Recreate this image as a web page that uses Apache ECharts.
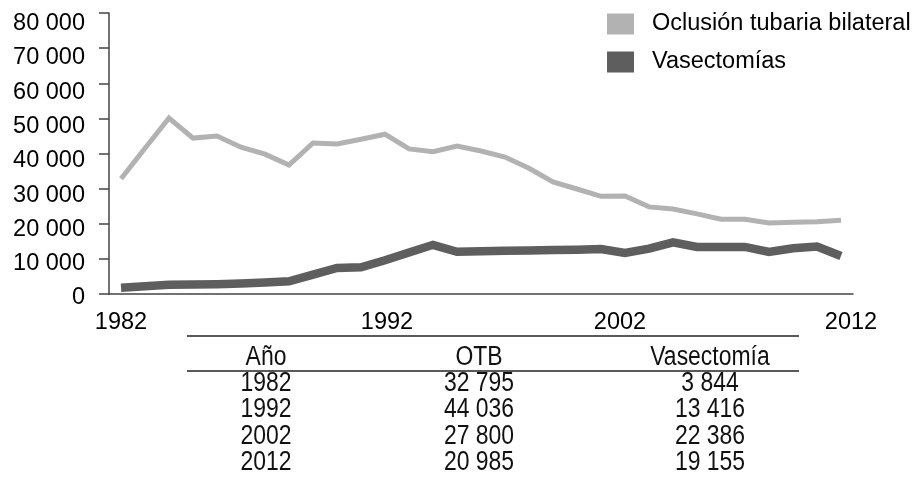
<!DOCTYPE html>
<html>
<head>
<meta charset="utf-8">
<script src="https://cdn.jsdelivr.net/npm/echarts@6/dist/echarts.min.js"></script>
<style>
    html, body { margin: 0; padding: 0; background: #fff; }
    #chart { width: 916px; height: 488px; }
</style>
</head>
<body>
<div id="chart"></div>
<script>
const years = ['1982', '1983', '1984', '1985', '1986', '1987', '1988', '1989', '1990', '1991',
    '1992', '1993', '1994', '1995', '1996', '1997', '1998', '1999', '2000', '2001',
    '2002', '2003', '2004', '2005', '2006', '2007', '2008', '2009', '2010', '2011', '2012'];
const otb = [32795, 41500, 50100, 44400, 45000, 41800, 39800, 36700, 43000, 42700,
    44036, 45500, 41300, 40500, 42100, 40700, 39000, 35800, 31900, 29900,
    27800, 27900, 24800, 24200, 22800, 21300, 21300, 20200, 20400, 20600, 20985];
const vasectomias = [1800, 2200, 2600, 2700, 2800, 3000, 3300, 3600, 5500, 7400,
    7600, 9600, 11800, 14000, 12000, 12200, 12300, 12400, 12500, 12600,
    12800, 11700, 12900, 14700, 13400, 13400, 13400, 12000, 13000, 13500, 10800];
const shownYears = ['1982', '1992', '2002', '2012'];
const seriesNames = ['Oclusión tubaria bilateral', 'Vasectomías'];

const tableHeader = ['Año', 'OTB', 'Vasectomía'];
const tableYears = [1982, 1992, 2002, 2012];
const tableOTB = [32795, 44036, 27800, 20985];
const tableVas = [3844, 13416, 22386, 19155];

(function (echarts) {
    'use strict';

    const font = "'Liberation Sans', Arial, Helvetica, sans-serif";
    const yMax = 80000, yStep = 10000;

    const fmt = function (v) {
        return String(v).replace(/\B(?=(\d{3})+(?!\d))/g, ' ');
    };

    // the source sets its labels a little off the ticks, copy that
    const xShift = {'1982': 0, '1992': 52, '2002': 38, '2012': 20};
    const xRich = {};
    shownYears.forEach(function (y) {
        xRich['y' + y] = {fontSize: 23.5, color: '#000', fontFamily: font, padding: [0, 0, 0, xShift[y]]};
    });
    const yRich = {};
    for (let v = 0; v <= yMax; v += yStep) {
        const off = Math.round(2 * (4 + 6.5 * v / yMax));
        yRich['v' + v] = {fontSize: 23.5, color: '#000', fontFamily: font, padding: [off, 0, 0, 0]};
    }

    // table below the chart
    const colX = [266, 479, 710];
    const headY = 357.5, rowY0 = 383.5, rowStep = 26.5;
    const graphic = [
        {type: 'line', shape: {x1: 187, y1: 336, x2: 799, y2: 336}, style: {stroke: '#222', lineWidth: 1.5}},
        {type: 'line', shape: {x1: 187, y1: 371, x2: 799, y2: 371}, style: {stroke: '#222', lineWidth: 1.5}}
    ];
    const cell = function (text, x, y) {
        return {
            type: 'text',
            x: x,
            y: y,
            scaleX: 0.85,
            style: {
                text: text, x: 0, y: 0, fill: '#111',
                font: '27px ' + font,
                align: 'center', verticalAlign: 'middle'
            }
        };
    };
    tableHeader.forEach(function (h, i) {
        graphic.push(cell(h, colX[i], headY));
    });
    tableYears.forEach(function (y, i) {
        const ry = rowY0 + i * rowStep;
        graphic.push(cell(String(y), colX[0], ry));
        graphic.push(cell(fmt(tableOTB[i]), colX[1], ry));
        graphic.push(cell(fmt(tableVas[i]), colX[2], ry));
    });

    const handle = echarts.init(document.getElementById('chart'), null, {renderer: 'canvas'});
    handle.setOption({
        animation: false,
        backgroundColor: '#fff',
        textStyle: {fontFamily: font},
        grid: {left: 109, right: 63, top: 13, bottom: 194, outerBoundsMode: 'none'},
        legend: {
            orient: 'vertical',
            left: 607,
            top: 12,
            padding: 0,
            itemWidth: 27,
            itemHeight: 21,
            itemGap: 14,
            icon: 'rect',
            data: seriesNames,
            textStyle: {fontSize: 23.5, color: '#000', fontFamily: font, padding: [0, 0, 0, 13], lineHeight: 24}
        },
        xAxis: {
            type: 'category',
            data: years,
            boundaryGap: true,
            axisLine: {lineStyle: {color: '#444', width: 1.5}},
            axisTick: {interval: 0, length: 8, lineStyle: {color: '#444', width: 1.5}},
            axisLabel: {
                interval: function (idx, val) {
                    return shownYears.indexOf(val) >= 0;
                },
                margin: 17,
                formatter: function (val) {
                    return '{y' + val + '|' + val + '}';
                },
                rich: xRich
            },
            splitLine: {show: false}
        },
        yAxis: {
            type: 'value',
            min: 0,
            max: yMax,
            interval: yStep,
            axisLine: {show: true, lineStyle: {color: '#444', width: 1.5}},
            axisTick: {show: true, length: 10, lineStyle: {color: '#444', width: 1.5}},
            axisLabel: {
                margin: 24,
                formatter: function (v) {
                    return '{v' + v + '|' + fmt(v) + '}';
                },
                rich: yRich
            },
            splitLine: {show: false}
        },
        series: [
            {
                name: seriesNames[0],
                type: 'line',
                data: otb,
                symbol: 'none',
                color: '#b2b2b2',
                lineStyle: {width: 5, color: '#b2b2b2', join: 'miter'}
            },
            {
                name: seriesNames[1],
                type: 'line',
                data: vasectomias,
                symbol: 'none',
                color: '#5e5e5e',
                lineStyle: {width: 8.5, color: '#5e5e5e', join: 'miter'}
            }
        ],
        graphic: graphic
    });

})(echarts);
</script>
</body>
</html>
